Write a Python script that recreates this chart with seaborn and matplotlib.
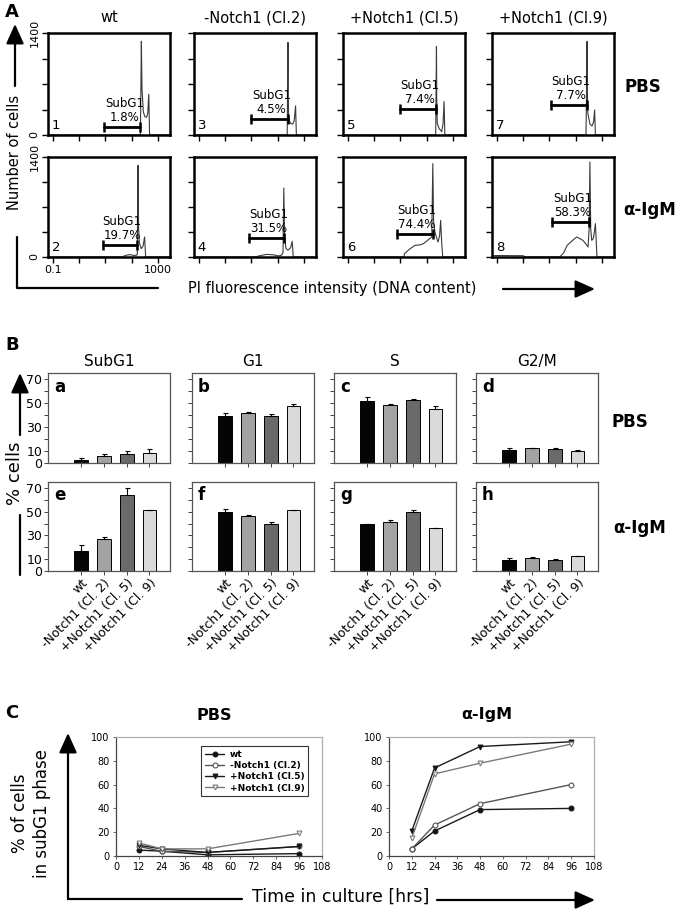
import numpy as np
import pandas as pd
import matplotlib
matplotlib.use("Agg")
import matplotlib.pyplot as plt
import seaborn as sns
from matplotlib.patches import FancyArrowPatch
from matplotlib.lines import Line2D

# ---------------- data ----------------
# Panel A: flow histograms, x = log10(PI intensity), y = number of cells
a_titles = ["wt", "-Notch1 (Cl.2)", "+Notch1 (Cl.5)", "+Notch1 (Cl.9)"]
a_pct_pbs = ["1.8%", "4.5%", "7.4%", "7.7%"]
a_pct_igm = ["19.7%", "31.5%", "74.4%", "58.3%"]

h1_logi = [-1.2, 2.34, 2.376, 2.39, 2.40, 2.45, 2.51, 2.58, 2.62, 2.66, 2.69, 3.5]
h1_cnt = [0, 0, 1285, 900, 640, 320, 250, 245, 300, 560, 0, 0]
h3_logi = [-1.2, 2.37, 2.40, 2.41, 2.43, 2.50, 2.58, 2.64, 2.69, 2.72, 3.5]
h3_cnt = [0, 0, 1271, 500, 206, 160, 150, 200, 400, 0, 0]
h5_logi = [-1.2, 2.35, 2.38, 2.39, 2.41, 2.48, 2.58, 2.63, 2.67, 2.70, 3.5]
h5_cnt = [0, 0, 1216, 500, 161, 90, 46, 150, 459, 0, 0]
h7_logi = [-1.2, 2.40, 2.42, 2.44, 2.45, 2.47, 2.55, 2.63, 2.69, 2.73, 2.76, 3.5]
h7_cnt = [0, 0, 560, 1285, 600, 298, 150, 124, 180, 344, 0, 0]
h2_logi = [-1.2, 1.62, 1.80, 1.95, 2.12, 2.22, 2.25, 2.27, 2.30, 2.37, 2.44, 2.50, 2.54, 3.5]
h2_cnt = [0, 0, 25, 33, 20, 30, 1283, 400, 200, 117, 150, 280, 0, 0]
h4_logi = [-1.2, 1.12, 1.35, 1.60, 1.85, 2.04, 2.15, 2.21, 2.24, 2.27, 2.32, 2.40, 2.50, 2.56, 2.60, 3.5]
h4_cnt = [0, 0, 20, 37, 30, 15, 25, 60, 966, 300, 120, 95, 130, 219, 0, 0]
h6_logi = [-1.2, 1.14, 1.16, 1.35, 1.56, 1.75, 1.88, 2.00, 2.12, 2.20, 2.24, 2.27, 2.32, 2.40, 2.44,
           2.50, 2.54, 2.58, 2.62, 3.5]
h6_cnt = [0, 0, 47, 110, 163, 170, 187, 220, 257, 280, 1307, 500, 350, 250, 210, 300, 513, 200, 0, 0]
h8_logi = [-1.2, -0.9, 0.0, 0.1, 1.40, 1.55, 1.68, 1.85, 2.04, 2.15, 2.28, 2.40, 2.48, 2.52, 2.55,
           2.58, 2.62, 2.68, 2.72, 2.76, 2.82, 3.5]
h8_cnt = [20, 20, 18, 0, 0, 60, 163, 220, 280, 260, 233, 180, 140, 400, 1330, 400, 233, 260, 350, 467, 0, 0]

# SubG1 gate: (log10 start, log10 end, height)
gates_pbs = [(0.95, 2.34, 115), (1.00, 2.39, 220), (1.00, 2.36, 363), (1.08, 2.42, 413)]
gates_igm = [(0.92, 2.20, 173), (0.92, 2.24, 266), (0.88, 2.24, 327), (1.12, 2.52, 490)]

# Panel B: bar charts (% cells)
b_cats = ["wt", "-Notch1 (Cl. 2)", "+Notch1 (Cl. 5)", "+Notch1 (Cl. 9)"]
b_phases = ["SubG1", "G1", "S", "G2/M"]
subg1_pbs = [2.8, 5.6, 7.8, 8.6]
subg1_pbs_err = [1.0, 2.2, 2.0, 3.1]
g1_pbs = [39.4, 41.9, 38.9, 47.5]
g1_pbs_err = [2.0, 0.9, 1.6, 1.4]
s_pbs = [51.9, 48.6, 52.2, 45.0]
s_pbs_err = [3.4, 0.6, 0.8, 2.5]
g2m_pbs = [10.8, 12.5, 11.4, 10.3]
g2m_pbs_err = [1.4, 0.0, 1.1, 0.5]
subg1_igm = [16.8, 26.6, 64.1, 51.3]
subg1_igm_err = [4.8, 2.3, 5.6, 0.5]
g1_igm = [49.9, 46.5, 40.0, 51.0]
g1_igm_err = [2.2, 1.1, 1.7, 0.3]
s_igm = [39.2, 41.7, 50.1, 35.9]
s_igm_err = [0.6, 1.4, 1.7, 0.5]
g2m_igm = [9.2, 10.6, 9.0, 12.6]
g2m_igm_err = [1.4, 0.9, 1.4, 0.3]

# Panel C: time course of SubG1 %
c_time = [12, 24, 48, 96]
c_series = ["wt", "-Notch1 (Cl.2)", "+Notch1 (Cl.5)", "+Notch1 (Cl.9)"]
c_pbs_wt = [5, 4, 1, 2]
c_pbs_cl2 = [8, 4, 3, 8]
c_pbs_cl5 = [9, 6, 3, 8]
c_pbs_cl9 = [11, 6, 6, 19]
c_igm_wt = [6, 21, 39, 40]
c_igm_cl2 = [6, 26, 44, 60]
c_igm_cl5 = [21, 74, 92, 96]
c_igm_cl9 = [15, 69, 78, 94]

# ---------------- setup ----------------
sns.set_theme(style="white")
plt.rcParams['font.family'] = ['DejaVu Sans']
plt.rcParams['text.color'] = 'black'
plt.rcParams['axes.labelcolor'] = 'black'
plt.rcParams['xtick.color'] = 'black'
plt.rcParams['ytick.color'] = 'black'

W, H = 685, 910
fig = plt.figure(figsize=(W / 100, H / 100), dpi=100)
fig.patch.set_facecolor("white")


def axes_px(x0, y0, x1, y1):
    return fig.add_axes([x0 / W, 1 - y1 / H, (x1 - x0) / W, (y1 - y0) / H])


def fx(x):
    return x / W


def fy(y):
    return 1 - y / H


def ftext(x, y, s, **kw):
    kw.setdefault("ha", "center")
    kw.setdefault("va", "center")
    kw.setdefault("color", "black")
    fig.text(fx(x), fy(y), s, **kw)


def fline(xs, ys, lw=1.6):
    fig.add_artist(Line2D([fx(x) for x in xs], [fy(y) for y in ys], lw=lw, color="black",
                          transform=fig.transFigure))


def farrow(x0, y0, x1, y1, lw=1.6):
    fig.add_artist(FancyArrowPatch((fx(x0), fy(y0)), (fx(x1), fy(y1)), transform=fig.transFigure,
                                   arrowstyle="-|>,head_length=1.0,head_width=0.45",
                                   mutation_scale=12, lw=lw, color="black", shrinkA=0, shrinkB=0))


# ---------------- Panel A ----------------
a_lefts = [48, 194, 343, 492]
a_w = 122
a_rows = [(33, 135), (157, 257)]
hists = [[(h1_logi, h1_cnt), (h3_logi, h3_cnt), (h5_logi, h5_cnt), (h7_logi, h7_cnt)],
         [(h2_logi, h2_cnt), (h4_logi, h4_cnt), (h6_logi, h6_cnt), (h8_logi, h8_cnt)]]
gates = [gates_pbs, gates_igm]
pcts = [a_pct_pbs, a_pct_igm]

for r, (yt, yb) in enumerate(a_rows):
    for c, xl in enumerate(a_lefts):
        ax = axes_px(xl, yt, xl + a_w, yb)
        lg, cnt = hists[r][c]
        sns.lineplot(x=10 ** np.array(lg), y=cnt, ax=ax, color="#3a3a3a", lw=0.8,
                     sort=False, estimator=None)
        ax.set_xscale("log")
        ax.set_xlim(10 ** -1.19, 10 ** 3.47)
        ax.set_ylim(0, 1400)
        ax.set_xticks([0.1, 1, 10, 100, 1000])
        ax.xaxis.set_minor_locator(matplotlib.ticker.NullLocator())
        ax.set_yticks([0, 350, 700, 1050, 1400])
        ax.tick_params(direction="out", length=4, width=1, colors="black", labelsize=8,
                       bottom=True, left=True, pad=2)
        ax.set_xticklabels([])
        ax.set_yticklabels([])
        if c == 0:
            ax.set_yticklabels(["0", "", "", "", "1400"], rotation=90, va="center")
            if r == 1:
                ax.set_xticklabels(["0.1", "", "", "", "1000"])
        for sp in ax.spines.values():
            sp.set_linewidth(1.8)
            sp.set_color("black")
        ax.set_xlabel("")
        ax.set_ylabel("")
        g0, g1, gy = gates[r][c]
        ax.plot([10 ** g0, 10 ** g1], [gy, gy], color="black", lw=2)
        ax.plot([10 ** g0, 10 ** g1], [gy, gy], ls="none", marker="|", ms=7, mew=1.8, color="black")
        ax.annotate("SubG1\n" + pcts[r][c], xy=(10 ** ((g0 + g1) / 2 + 0.08), gy), xytext=(0, 2),
                    textcoords="offset points", ha="center", va="bottom", fontsize=8.5,
                    linespacing=1.1, color="black")
        ax.text(0.03, 0.03, str(2 * c + 1 + r), transform=ax.transAxes, fontsize=9.5,
                ha="left", va="bottom", color="black")
        if r == 0:
            ftext(xl + a_w / 2, 18, a_titles[c], fontsize=10.5)

ftext(12, 12, "A", fontsize=13, fontweight="bold")
ftext(643, 87, "PBS", fontsize=12, fontweight="heavy")
ftext(650, 210, "α-IgM", fontsize=12, fontweight="heavy")
ftext(15, 152, "Number of cells", fontsize=10.5, rotation=90)
farrow(15, 86, 15, 24)
fline([17, 17, 158], [237, 288, 288])
ftext(332, 289, "PI fluorescence intensity (DNA content)", fontsize=10.5)
farrow(503, 289, 595, 289)

# ---------------- Panel B ----------------
b_lefts = [48, 192, 334, 476]
b_w = 122
b_rows = [(373, 463), (482, 571)]
b_vals = [[(subg1_pbs, subg1_pbs_err), (g1_pbs, g1_pbs_err), (s_pbs, s_pbs_err), (g2m_pbs, g2m_pbs_err)],
          [(subg1_igm, subg1_igm_err), (g1_igm, g1_igm_err), (s_igm, s_igm_err), (g2m_igm, g2m_igm_err)]]
bar_colors = ["#050505", "#a3a3a3", "#6a6a6a", "#dadada"]
letters = ["abcd", "efgh"]

for r, (yt, yb) in enumerate(b_rows):
    for c, xl in enumerate(b_lefts):
        ax = axes_px(xl, yt, xl + b_w, yb)
        vals, errs = b_vals[r][c]
        df = pd.DataFrame({"cat": b_cats, "val": vals})
        sns.barplot(data=df, x="cat", y="val", hue="cat", palette=bar_colors, legend=False,
                    width=0.6, edgecolor="black", linewidth=0.7, errorbar=None, ax=ax)
        ax.errorbar(range(4), vals, yerr=[np.zeros(4), errs], fmt="none", ecolor="black",
                    elinewidth=0.8, capsize=1.8, capthick=0.8)
        ax.set_xlim(-1.45, 3.9)
        ax.set_ylim(0, 75)
        ax.set_xlabel("")
        ax.set_ylabel("")
        for sp in ax.spines.values():
            sp.set_linewidth(0.9)
            sp.set_color("#555555")
        ax.tick_params(axis="both", direction="out", length=3, width=0.7, colors="#444444",
                       labelcolor="black", bottom=True, left=True, pad=1)
        ax.tick_params(axis="y", which="minor", direction="out", length=3, width=0.7,
                       colors="#444444", left=True)
        if c == 0:
            ax.set_yticks([0, 10, 30, 50, 70])
            ax.set_yticklabels(["0", "10", "30", "50", "70"], fontsize=9)
            ax.set_yticks([20, 40, 60], minor=True)
        else:
            ax.set_yticks([0, 10, 20, 30, 40, 50, 60, 70])
            ax.set_yticklabels([])
        ax.set_xticks(range(4))
        if r == 1:
            ax.set_xticklabels(b_cats, rotation=45, ha="right", rotation_mode="anchor", fontsize=9)
        else:
            ax.set_xticklabels([])
        ax.text(0.05, 0.95, letters[r][c], transform=ax.transAxes, fontsize=12,
                fontweight="bold", ha="left", va="top", color="black")
        if r == 0:
            ftext(xl + b_w / 2, 362, b_phases[c], fontsize=11)

ftext(12, 345, "B", fontsize=13, fontweight="bold")
ftext(630, 422, "PBS", fontsize=12, fontweight="heavy")
ftext(640, 528, "α-IgM", fontsize=12, fontweight="heavy")
ftext(15, 473, "% cells", fontsize=13, rotation=90)
farrow(20, 435, 20, 373)
fline([20, 20], [515, 575])

# ---------------- Panel C ----------------
c_pbs = [c_pbs_wt, c_pbs_cl2, c_pbs_cl5, c_pbs_cl9]
c_igm = [c_igm_wt, c_igm_cl2, c_igm_cl5, c_igm_cl9]
c_markers = ["o", "o", "v", "v"]
c_faces = ["#111111", "white", "#111111", "white"]
c_lines = ["#1a1a1a", "#555555", "#1a1a1a", "#7a7a7a"]

for k, (x0, x1, data, title) in enumerate([(116, 322, c_pbs, "PBS"), (389, 594, c_igm, "α-IgM")]):
    ax = axes_px(x0, 737, x1, 856)
    for i, vals in enumerate(data):
        sns.lineplot(x=c_time, y=vals, ax=ax, color=c_lines[i], lw=1.0, marker=c_markers[i],
                     markersize=3.5, markerfacecolor=c_faces[i], markeredgecolor=c_lines[i],
                     markeredgewidth=0.8, label=c_series[i] if k == 0 else None)
    ax.set_xlim(0, 108)
    ax.set_ylim(0, 100)
    ax.set_xticks(range(0, 109, 12))
    ax.set_yticks(range(0, 101, 20))
    ax.tick_params(direction="out", length=2.5, width=0.6, labelsize=7, pad=2, colors="#555555",
                   labelcolor="black", bottom=True, left=True)
    for name, sp in ax.spines.items():
        sp.set_linewidth(0.9)
        sp.set_color("#444444" if name in ("left", "bottom") else "#b0b0b0")
    ax.set_xlabel("")
    ax.set_ylabel("")
    if k == 0:
        leg = ax.legend(loc="upper right", bbox_to_anchor=(0.955, 0.96), frameon=True, fancybox=False,
                        prop={"size": 6.5, "weight": "bold"}, handlelength=2.2, borderpad=0.4,
                        labelspacing=0.25, handletextpad=0.6)
        leg.get_frame().set_edgecolor("black")
        leg.get_frame().set_linewidth(0.8)
        for t in leg.get_texts():
            t.set_color("black")
    ftext((x0 + x1) / 2 - 5, 715, title, fontsize=11.5, fontweight="heavy")

ftext(12, 713, "C", fontsize=13, fontweight="bold")
ftext(31, 813, "% of cells\nin subG1 phase", fontsize=12, rotation=90, linespacing=1.25)
farrow(68, 899, 68, 733)
fline([68, 242], [899, 899])
ftext(341, 897, "Time in culture [hrs]", fontsize=12.5)
farrow(437, 900, 595, 900)

fig.savefig("out.png", dpi=100, facecolor="white")
